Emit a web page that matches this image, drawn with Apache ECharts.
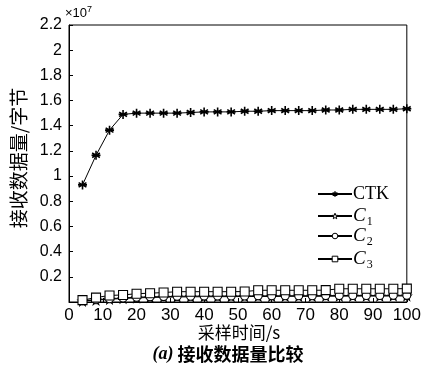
<!DOCTYPE html>
<html><head><meta charset="utf-8">
<script src="https://cdn.jsdelivr.net/npm/echarts@6/dist/echarts.min.js"></script>
<style>html,body{margin:0;padding:0;background:#fff}#c{width:424px;height:372px}</style>
</head><body><div id="c"></div>
<script>
// sampling time (s)
const times = [4,8,12,16,20,24,28,32,36,40,44,48,52,56,60,64,68,72,76,80,84,88,92,96,100];
// received data amount, units of 1e7 bytes
const ctk = [0.93,1.165,1.365,1.49,1.50,1.50,1.50,1.50,1.505,1.51,1.51,1.51,1.515,1.515,1.52,1.52,1.52,1.52,1.525,1.525,1.53,1.53,1.53,1.53,1.535];
const c1  = [0.008,0.015,0.022,0.028,0.033,0.036,0.038,0.040,0.041,0.042,0.042,0.043,0.043,0.044,0.044,0.045,0.045,0.045,0.046,0.046,0.047,0.047,0.047,0.048,0.048];
const c2  = [0.010,0.018,0.026,0.032,0.038,0.041,0.043,0.045,0.046,0.047,0.047,0.048,0.048,0.049,0.049,0.050,0.050,0.050,0.051,0.051,0.052,0.052,0.052,0.053,0.053];
const c3  = [0.015,0.035,0.052,0.056,0.066,0.070,0.075,0.082,0.082,0.082,0.082,0.082,0.083,0.093,0.093,0.093,0.093,0.093,0.094,0.105,0.105,0.105,0.105,0.105,0.106];
const seriesNames = ['CTK','C1','C2','C3'];
const yTicks = ['0.2','0.4','0.6','0.8','1','1.2','1.4','1.6','1.8','2','2.2'];

const asterisk = 'path://M0,-10L0,10M-8.66,-5L8.66,5M-8.66,5L8.66,-5M-10,0L10,0';
const pentagram = 'path://M0,-10L2.35,-3.24L9.51,-3.09L3.8,1.24L5.88,8.09L0,4L-5.88,8.09L-3.8,1.24L-9.51,-3.09L-2.35,-3.24Z';

const pair = arr => times.map((t,i)=>[t,arr[i]]);
const mk = (name, data, symbol, size, fill, bw) => ({
  name, type:'line', data: pair(data), symbol, symbolSize:size, showSymbol:true,
  lineStyle:{color:'#000',width:1},
  itemStyle:{color:fill, borderColor:'#000', borderWidth: bw},
  emphasis:{disabled:true}, animation:false, z: 3
});

const richText = {
  b:{fontFamily:'Liberation Serif',fontSize:18,color:'#000',lineHeight:22},
  i:{fontFamily:'Liberation Serif',fontStyle:'italic',fontSize:19,color:'#000',lineHeight:22},
  s:{fontFamily:'Liberation Serif',fontSize:12,color:'#000',padding:[12,0,0,1],lineHeight:22}
};
const legendTops = [180, 199, 219, 242];
const legends = seriesNames.map((n,k)=>({
  left:312, top:legendTops[k], itemWidth:34, itemHeight:7, itemGap:0,
  data:[n],
  itemStyle: n==='CTK' ? {color:'#000',borderColor:'#000',borderWidth:1.4}
                       : {color:'#fff',borderColor:'#000',borderWidth:1},
  formatter:nm=> nm==='CTK' ? '{b|CTK}' : '{i|C}{s|'+nm.slice(1)+'}',
  textStyle:{color:'#000',padding:[0,0,0,-4],rich:richText}
}));

const chart = echarts.init(document.getElementById('c'));
chart.setOption({
  animation:false,
  grid:{left:69,top:25,right:14,bottom:70,show:true,borderColor:'#000',borderWidth:1},
  xAxis:{type:'value',min:0,max:100,interval:10,
    axisLine:{lineStyle:{color:'#000'}},
    axisTick:{inside:true,length:4,lineStyle:{color:'#000'}},
    axisLabel:{color:'#000',fontFamily:'Liberation Sans',fontSize:17,margin:5},
    splitLine:{show:false}},
  yAxis:{type:'value',min:0,max:2.2,interval:0.2,
    axisLine:{lineStyle:{color:'#000'}},
    axisTick:{inside:true,length:4,lineStyle:{color:'#000'}},
    axisLabel:{color:'#000',fontFamily:'Liberation Sans',fontSize:16,margin:7,
      formatter:v=>{const i=Math.round(v/0.2)-1;return i>=0?yTicks[i]:'';}},
    splitLine:{show:false}},
  legend:legends,
  series:[
    mk('CTK',ctk,asterisk,9,'#000',1.6),
    mk('C1',c1,pentagram,9,'#fff',1.1),
    mk('C2',c2,'circle',8,'#fff',1.1),
    mk('C3',c3,'rect',9,'#fff',1.1)
  ],
  graphic:[
    {type:'text',x:65,y:5,style:{text:'×10{s|7}',fontFamily:'Liberation Sans',fontSize:13,fill:'#000',
      rich:{s:{fontSize:9,padding:[0,0,8,0],fontFamily:'Liberation Sans'}}}},
    {type:'text',x:19,y:158,rotation:Math.PI/2,style:{text:'接收数据量/字节',fill:'#000',
      fontFamily:'Noto Sans CJK SC',fontSize:19,align:'center',verticalAlign:'middle'}},
    {type:'text',x:239,y:333,style:{text:'采样时间/s',fill:'#000',
      fontFamily:'Noto Sans CJK SC',fontSize:17,align:'center',verticalAlign:'middle'}},
    {type:'text',x:228,y:354,style:{text:'{i|(a)} 接收数据量比较',fill:'#000',
      fontFamily:'Noto Sans CJK SC',fontSize:18,fontWeight:'bold',align:'center',verticalAlign:'middle',
      rich:{i:{fontFamily:'Liberation Serif',fontStyle:'italic',fontWeight:'bold',fontSize:18}}}}
  ]
});
</script></body></html>
